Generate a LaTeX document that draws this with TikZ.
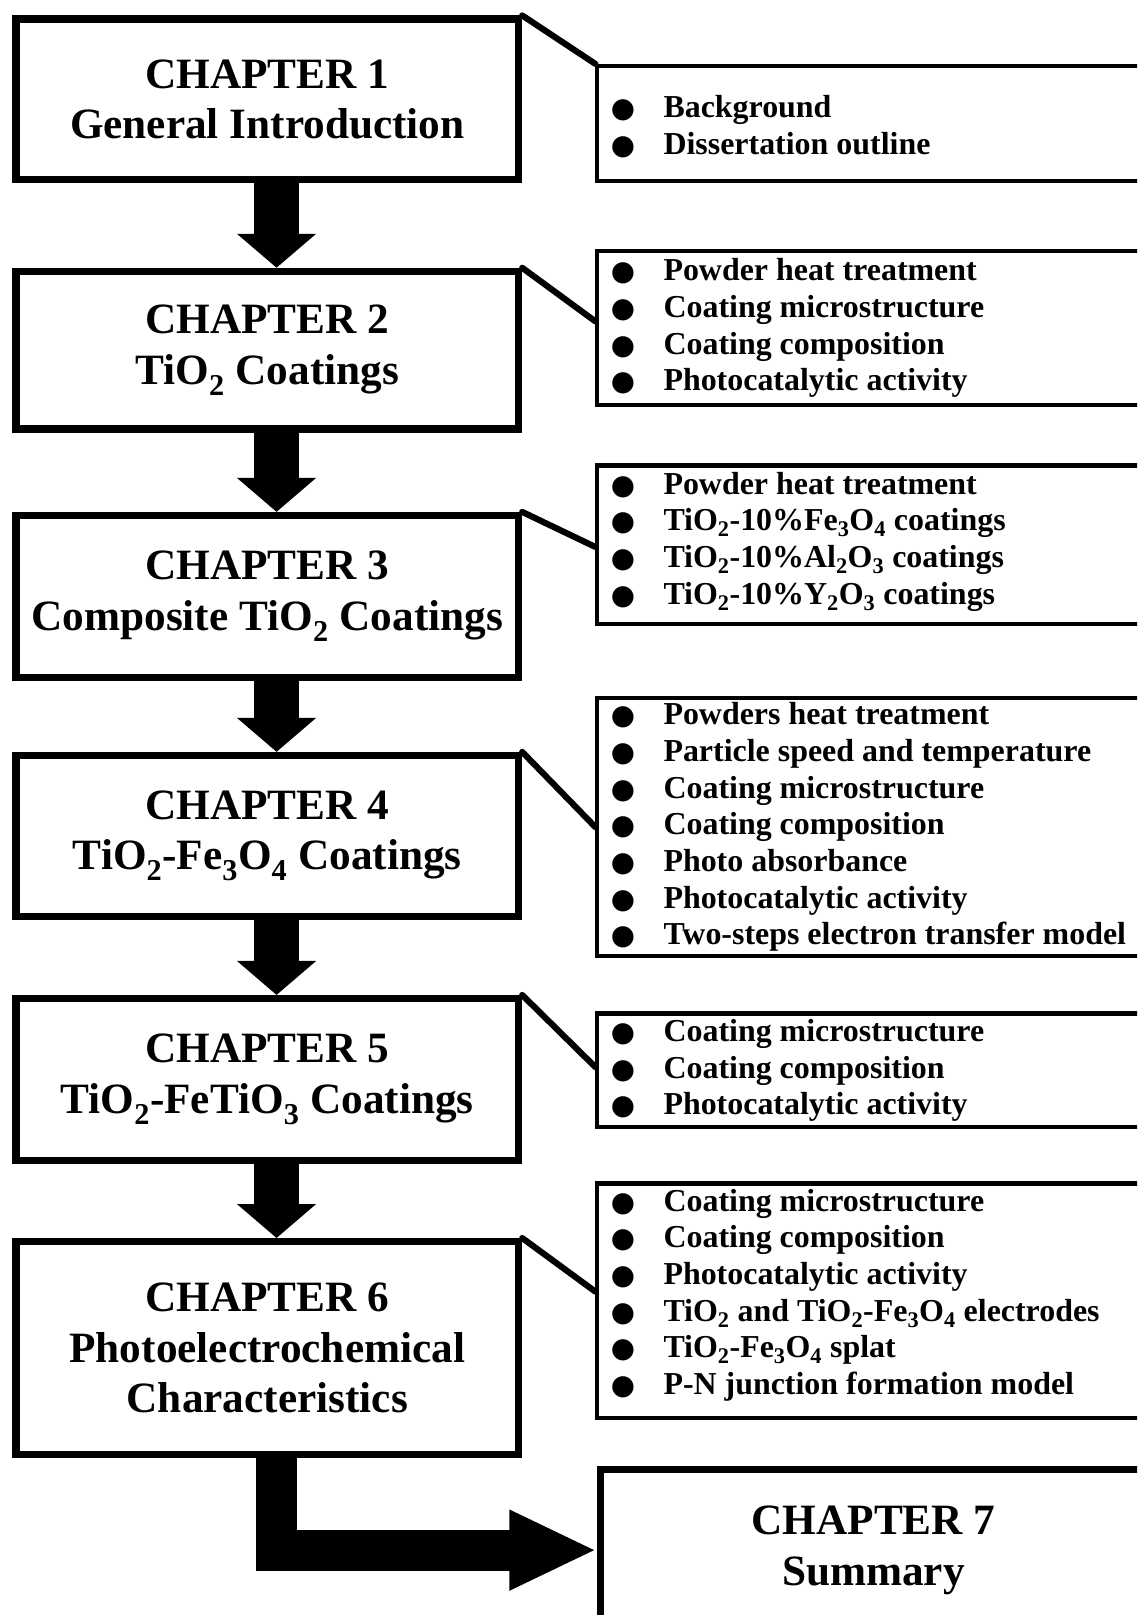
\documentclass[tikz,border=0pt]{standalone}
\usepackage{fontspec}
\setmainfont{Liberation Serif}
\newfontfamily\bulfont{DejaVu Sans}
\usetikzlibrary{arrows.meta,calc}
\newcommand\itembul{\makebox[52pt][l]{\hspace{1pt}\bulfont\fontsize{27}{27}\selectfont ●}}
\begin{document}
\begin{tikzpicture}[x=1pt,y=-1pt,
  chapbox/.style={draw, line width=7pt, rectangle, minimum width=488pt, align=center, inner sep=0pt,
    font=\fontsize{42}{49}\selectfont\bfseries},
  lastbox/.style={draw, line width=7pt, rectangle, minimum width=530pt, minimum height=156pt, align=center, inner sep=0pt,
    font=\fontsize{42}{50}\selectfont\bfseries},
  callbox/.style={draw, line width=4pt, rectangle, minimum width=533pt, inner sep=0pt},
  itemlist/.style={anchor=west, align=left, inner sep=0pt, font=\fontsize{31}{35.6}\selectfont\bfseries},
  link/.style={line width=6pt, line cap=round},
  downarrow/.style={line width=43pt, -{Triangle[width=75pt,length=33pt]}},
  finalarrow/.style={line width=40pt, line join=miter, -{Triangle[width=72pt,length=85pt]}}]

\useasboundingbox (0,0) rectangle (1104,1568);
\clip (0,0) rectangle (1104,1568);
\fill[white] (0,0) rectangle (1104,1568);

% chapter boxes
\node[chapbox, minimum height=156pt] (ch1) at (259.5,96.5) {CHAPTER 1\\General Introduction};
\node[chapbox, minimum height=153pt] (ch2) at (259.5,340) {CHAPTER 2\\TiO\textsubscript{2} Coatings};
\node[chapbox, minimum height=157pt] (ch3) at (259.5,579) {CHAPTER 3\\Composite TiO\textsubscript{2} Coatings};
\node[chapbox, minimum height=156pt] (ch4) at (259.5,811.5) {CHAPTER 4\\TiO\textsubscript{2}-Fe\textsubscript{3}O\textsubscript{4} Coatings};
\node[chapbox, minimum height=157pt] (ch5) at (259.5,1048) {CHAPTER 5\\TiO\textsubscript{2}-FeTiO\textsubscript{3} Coatings};
\node[chapbox, minimum height=207pt] (ch6) at (259.5,1309) {CHAPTER 6\\Photoelectrochemical\\Characteristics};
\node[lastbox] (ch7) at (848,1505) {CHAPTER 7\\Summary};

% callout boxes
\node[callbox, minimum height=112pt] (c1) at (846.5,120) {};
\node[callbox, minimum height=149pt] (c2) at (846.5,318.5) {};
\node[callbox, minimum height=154pt] (c3) at (846.5,529) {};
\node[callbox, minimum height=250pt] (c4) at (846.5,803) {};
\node[callbox, minimum height=110pt] (c5) at (846.5,1039) {};
\node[callbox, minimum height=228pt] (c6) at (846.5,1263) {};

% item lists
\node[itemlist] (t1) at (592,123) {\itembul Background\\\itembul Dissertation outline};
\node[itemlist] (t2) at (592,318.5) {\itembul Powder heat treatment\\\itembul Coating microstructure\\\itembul Coating composition\\\itembul Photocatalytic activity};
\node[itemlist] (t3) at (592,526) {\itembul Powder heat treatment\\
  \itembul TiO\textsubscript{2}-10\%Fe\textsubscript{3}O\textsubscript{4} coatings\\
  \itembul TiO\textsubscript{2}-10\%Al\textsubscript{2}O\textsubscript{3} coatings\\
  \itembul TiO\textsubscript{2}-10\%Y\textsubscript{2}O\textsubscript{3} coatings};
\node[itemlist] (t4) at (592,803) {\itembul Powders heat treatment\\\itembul Particle speed and temperature\\\itembul Coating microstructure\\\itembul Coating composition\\\itembul Photo absorbance\\\itembul Photocatalytic activity\\\itembul Two-steps electron transfer model};
\node[itemlist] (t5) at (592,1039.5) {\itembul Coating microstructure\\\itembul Coating composition\\\itembul Photocatalytic activity};
\node[itemlist] (t6) at (592,1257.5) {\itembul Coating microstructure\\\itembul Coating composition\\\itembul Photocatalytic activity\\
  \itembul TiO\textsubscript{2} and TiO\textsubscript{2}-Fe\textsubscript{3}O\textsubscript{4} electrodes\\
  \itembul TiO\textsubscript{2}-Fe\textsubscript{3}O\textsubscript{4} splat\\
  \itembul P-N junction formation model};

% links from chapters to callouts
\draw[link] (ch1.north east) -- (c1.north west);
\draw[link] (ch2.north east) -- ($(c2.north west)+(0,70)$);
\draw[link] (ch3.north east) -- ($(c3.north west)+(0,81)$);
\draw[link] (ch4.north east) -- ($(c4.north west)+(0,127)$);
\draw[link] (ch5.north east) -- ($(c5.north west)+(0,54)$);
\draw[link] (ch6.north east) -- ($(c6.north west)+(0,107)$);

% flow arrows
\draw[downarrow] ($(ch1.south)+(9,0)$) -- ($(ch2.north)+(9,0)$);
\draw[downarrow] ($(ch2.south)+(9,0)$) -- ($(ch3.north)+(9,0)$);
\draw[downarrow] ($(ch3.south)+(9,0)$) -- ($(ch4.north)+(9,0)$);
\draw[downarrow] ($(ch4.south)+(9,0)$) -- ($(ch5.north)+(9,0)$);
\draw[downarrow] ($(ch5.south)+(9,0)$) -- ($(ch6.north)+(9,0)$);
\draw[finalarrow] ($(ch6.south)+(9,0)$) |- (ch7.west);
\end{tikzpicture}
\end{document}
